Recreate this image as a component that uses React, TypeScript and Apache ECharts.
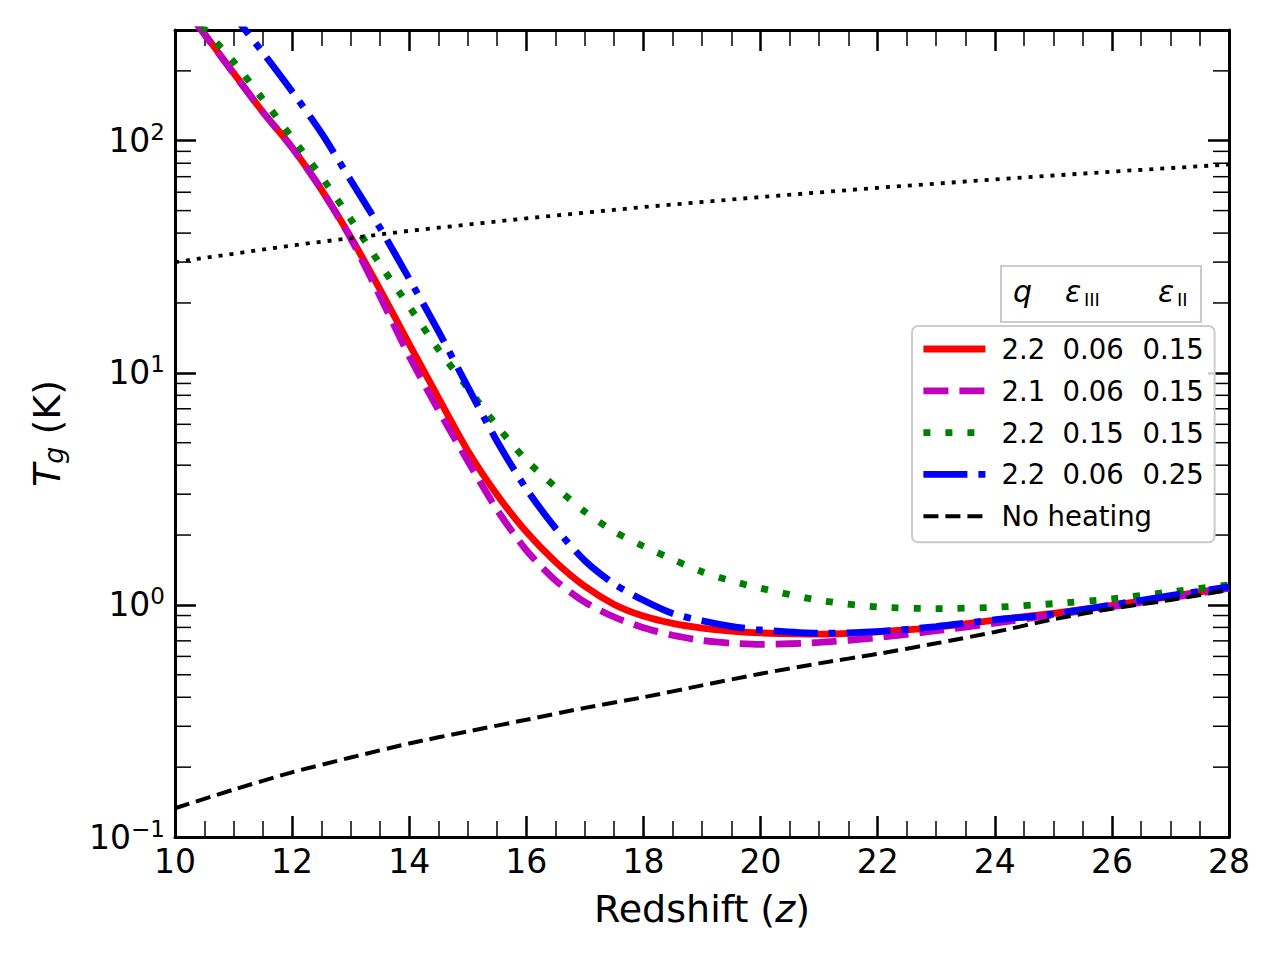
import React, { useEffect, useRef } from 'react';
import * as echarts from 'echarts';

// ---------- data ----------
const redshift = [10, 10.5, 11, 11.5, 12, 12.5, 13, 13.5, 14, 14.5, 15, 15.5, 16, 16.5, 17, 17.5, 18, 18.5, 19, 19.5, 20, 21, 22, 23, 24, 25, 26, 27, 28];
const tRed = [430, 290, 196, 133, 93.5, 61.5, 38.5, 22.9, 13.3, 7.8, 4.62, 2.985, 2.065, 1.531, 1.202, 1.005, 0.895, 0.832, 0.794, 0.771, 0.757, 0.748, 0.766, 0.8, 0.86, 0.92, 0.995, 1.087, 1.19];
const tMagenta = [427, 288, 195, 133, 93.3, 61.7, 38, 21.4, 11.8, 6.9, 4.17, 2.57, 1.72, 1.274, 1.028, 0.887, 0.798, 0.74, 0.703, 0.684, 0.676, 0.689, 0.723, 0.774, 0.834, 0.906, 0.982, 1.072, 1.18];
const tGreen = [440, 304, 219, 151, 103, 70, 45.9, 29.4, 19.3, 12.6, 8.6, 5.9, 4.2, 3.22, 2.52, 2.07, 1.79, 1.57, 1.39, 1.27, 1.18, 1.047, 0.98, 0.964, 0.977, 1.012, 1.062, 1.138, 1.22];
const tBlue = [708, 500, 347, 240, 163, 108, 67.6, 42.2, 25.4, 15.1, 8.7, 5.07, 3.16, 2.14, 1.55, 1.23, 1.047, 0.918, 0.855, 0.809, 0.78, 0.755, 0.767, 0.807, 0.863, 0.912, 1.0, 1.096, 1.197];

const redshiftInt = [10, 11, 12, 13, 14, 15, 16, 17, 18, 19, 20, 21, 22, 23, 24, 25, 26, 27, 28];
const tNoHeating = [0.133, 0.16, 0.19, 0.22, 0.253, 0.285, 0.32, 0.36, 0.4, 0.45, 0.505, 0.56, 0.615, 0.683, 0.764, 0.867, 0.963, 1.05, 1.16];

const redshiftCmb = [10, 12, 14, 16, 18, 20, 22, 24, 26, 28];
const tCmb = [30, 35.4, 40.9, 46.3, 51.8, 57.2, 62.7, 68.1, 73.6, 79.0];

const qValues = ['2.2', '2.1', '2.2', '2.2'];
const epsIII = ['0.06', '0.06', '0.15', '0.06'];
const epsII = ['0.15', '0.15', '0.15', '0.25'];
const noHeatingName = 'No heating';

const xTicksMin = 10;
const xTicksMax = 28;
const xTickInterval = 2;
const yMin = 0.1;
const yMax = 300;
const yMinorTicks = [0.2, 0.3, 0.4, 0.5, 0.6, 0.7, 0.8, 0.9, 2, 3, 4, 5, 6, 7, 8, 9, 20, 30, 40, 50, 60, 70, 80, 90, 200];

const FONT = 'DejaVu Sans';

const names = qValues.map((q, i) => `${q} ${epsIII[i]} ${epsII[i]}`);

function pairs(xs: number[], ys: number[]) {
  return xs.map((x, i) => [x, ys[i]]);
}

export default function App() {
  const ref = useRef<HTMLDivElement>(null);
  useEffect(() => {
    if (!ref.current) return;
    const chart = echarts.init(ref.current, null, { renderer: 'svg' });
    const lineW = 6.8;
    const commonX = {
      type: 'value' as const,
      min: xTicksMin,
      max: xTicksMax,
      interval: xTickInterval,
      splitLine: { show: false },
      axisLine: { show: true, onZero: false, lineStyle: { color: '#000', width: 3 } },
      axisTick: { show: true, inside: true, length: 21, lineStyle: { color: '#000', width: 2.5 } },
      minorTick: { show: true, splitNumber: 4, length: 16, lineStyle: { color: '#000', width: 1.5 } },
    };
    const commonY = {
      type: 'log' as const,
      logBase: 10,
      min: yMin,
      max: yMax,
      splitLine: { show: false },
      axisLine: { show: true, onZero: false, lineStyle: { color: '#000', width: 3 } },
      axisTick: { show: true, inside: true, length: 21, lineStyle: { color: '#000', width: 2.5 } },
    };
    const lineSeries = (name: string, xs: number[], ys: number[], color: string, width: number, type: any, smooth: number) => ({
      name,
      type: 'line',
      data: pairs(xs, ys),
      showSymbol: false,
      symbol: 'none',
      smooth,
      lineStyle: { color, width, type, cap: 'butt' },
      itemStyle: { color },
    });
    const option: any = {
      animation: false,
      backgroundColor: '#fff',
      grid: { left: 175, right: 51, top: 30, bottom: 123, containLabel: false },
      xAxis: [
        {
          ...commonX,
          position: 'bottom',
          name: '{n|Redshift (}{i|z}{n|)}',
          nameLocation: 'middle',
          nameGap: 53,
          nameTextStyle: {
            rich: {
              n: { fontSize: 38, fontFamily: FONT, color: '#000' },
              i: { fontSize: 38, fontFamily: FONT, fontStyle: 'italic', color: '#000' },
            },
          },
          axisLabel: { show: true, margin: 8, fontSize: 33, fontFamily: FONT, color: '#000' },
        },
        {
          ...commonX,
          position: 'top',
          axisLabel: { show: false },
        },
      ],
      yAxis: [
        {
          ...commonY,
          position: 'left',
          name: '{i|T}{g|g}{n| (K)}',
          nameLocation: 'middle',
          nameGap: 108,
          nameRotate: 90,
          nameTextStyle: {
            rich: {
              i: { fontSize: 38, fontFamily: FONT, fontStyle: 'italic', color: '#000' },
              g: { fontSize: 27, fontFamily: FONT, fontStyle: 'italic', color: '#000', padding: [14, 0, 0, 0] },
              n: { fontSize: 38, fontFamily: FONT, color: '#000' },
            },
          },
          axisLabel: {
            show: true,
            margin: 10,
            formatter: (v: number) => {
              const e = Math.log10(v);
              const r = Math.round(e);
              if (Math.abs(e - r) > 1e-6) return '';
              const sup = r < 0 ? '\u2212' + -r : String(r);
              return `{b|10}{s|${sup}}`;
            },
            rich: {
              b: { fontSize: 33, fontFamily: FONT, color: '#000' },
              s: { fontSize: 23, fontFamily: FONT, color: '#000', padding: [0, 0, 17, 0] },
            },
          },
        },
        {
          ...commonY,
          position: 'right',
          axisLabel: { show: false },
        },
      ],
      legend: {
        data: [...names, noHeatingName],
        orient: 'vertical',
        left: 912,
        top: 326,
        itemWidth: 62,
        itemHeight: 14,
        itemGap: 11.8,
        padding: [8, 11, 11, 8],
        backgroundColor: 'rgba(255,255,255,0.8)',
        borderColor: '#cccccc',
        borderWidth: 2,
        borderRadius: 6,
        lineStyle: { width: 'inherit', type: 'inherit' },
        itemStyle: { opacity: 0 },
        selectedMode: false,
        formatter: (name: string) => {
          if (name === noHeatingName) return `{h|${name}}`;
          const [a, b, c] = name.split(' ');
          return `{a|${a}}{b|${b}}{c|${c}}`;
        },
        textStyle: {
          fontSize: 27.5,
          fontFamily: FONT,
          color: '#000',
          lineHeight: 30,
          rich: {
            a: { fontSize: 27.5, fontFamily: FONT, color: '#000', width: 61, padding: [0, 0, 0, 11], lineHeight: 30 },
            b: { fontSize: 27.5, fontFamily: FONT, color: '#000', width: 80, lineHeight: 30 },
            c: { fontSize: 27.5, fontFamily: FONT, color: '#000', lineHeight: 30 },
            h: { fontSize: 27.5, fontFamily: FONT, color: '#000', padding: [0, 0, 0, 11], lineHeight: 30 },
          },
        },
      },
      graphic: [
        {
          type: 'rect',
          shape: { x: 1001, y: 266, width: 200, height: 56 },
          style: { fill: 'rgba(255,255,255,0.8)', stroke: '#cccccc', lineWidth: 2 },
          z: 10,
        },
        { type: 'text', x: 1013, y: 291, z: 11, style: { text: 'q', font: `italic 30px "${FONT}"`, fill: '#000', verticalAlign: 'middle' } },
        { type: 'text', x: 1065, y: 291, z: 11, style: { text: '\u03b5', font: `italic 30px "${FONT}"`, fill: '#000', verticalAlign: 'middle' } },
        { type: 'text', x: 1084, y: 299, z: 11, style: { text: 'III', font: `18px "${FONT}"`, fill: '#000', verticalAlign: 'middle' } },
        { type: 'text', x: 1158, y: 291, z: 11, style: { text: '\u03b5', font: `italic 30px "${FONT}"`, fill: '#000', verticalAlign: 'middle' } },
        { type: 'text', x: 1177, y: 299, z: 11, style: { text: 'II', font: `18px "${FONT}"`, fill: '#000', verticalAlign: 'middle' } },
      ],
      series: [
        lineSeries(names[0], redshift, tRed, '#ff0000', lineW, 'solid', 0.25),
        lineSeries(names[1], redshift, tMagenta, '#bf00bf', lineW, [25, 11], 0.25),
        lineSeries(names[2], redshift, tGreen, '#008000', lineW, [7, 15], 0.25),
        lineSeries(names[3], redshift, tBlue, '#0000ff', lineW, [44, 11, 7, 11], 0.25),
        lineSeries(noHeatingName, redshiftInt, tNoHeating, '#000000', 4, [15, 7], 0.25),
        lineSeries('CMB', redshiftCmb, tCmb, '#000000', 3.8, [4, 7], 0),
        {
          name: 'yMinor', type: 'custom', silent: true, clip: false,
          data: yMinorTicks.map((v) => [xTicksMin, v]),
          renderItem: (_params: any, api: any) => {
            const v = api.value(1);
            const pL = api.coord([xTicksMin, v]);
            const pR = api.coord([xTicksMax, v]);
            return {
              type: 'group',
              children: [
                { type: 'line', shape: { x1: pL[0], y1: pL[1], x2: pL[0] + 16, y2: pL[1] }, style: { stroke: '#000', lineWidth: 1.5 } },
                { type: 'line', shape: { x1: pR[0] - 16, y1: pR[1], x2: pR[0], y2: pR[1] }, style: { stroke: '#000', lineWidth: 1.5 } },
              ],
            };
          },
        },
      ],
    };
    chart.setOption(option);
    return () => chart.dispose();
  }, []);
  return <div ref={ref} style={{ position: 'absolute', left: 0, top: 0, width: 1280, height: 960 }} />;
}
